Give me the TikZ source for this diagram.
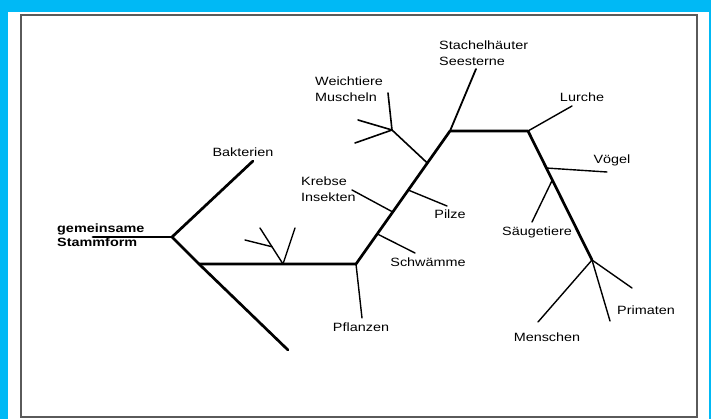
\documentclass[tikz,border=0pt]{standalone}
\usepackage{fontspec}
\setmainfont[FakeStretch=1.2]{Liberation Sans}
\usetikzlibrary{calc}
\definecolor{skyframe}{RGB}{0,185,245}
\definecolor{boxgray}{RGB}{90,90,90}
\begin{document}
\begin{tikzpicture}[x=1pt,y=-1pt,
  trunk/.style={line width=2.7pt,line cap=round,line join=round},
  twig/.style={line width=1.4pt,line cap=round},
  lbl/.style={font=\fontsize{12}{16}\selectfont,inner sep=0pt},
  mlbl/.style={lbl,align=left,anchor=west},
  bold lbl/.style={font=\bfseries\fontsize{12}{13.5}\selectfont,inner sep=0pt,align=left,anchor=west}]
% background and frame
\fill[skyframe] (0,0) rectangle (711,419);
\fill[white] (8,12) rectangle (709,419);
\draw[boxgray,line width=1.8pt] (21,15) rectangle (697,417);
\useasboundingbox (0,0) rectangle (711,419);
% coordinates
\coordinate (stub) at (93,237);
\coordinate (J0) at (172,237);
\coordinate (bak) at (253,161);
\coordinate (J1) at (199,264);
\coordinate (lowend) at (288,350);
\coordinate (F1) at (283,264);
\coordinate (f1a) at (295,228);
\coordinate (f1b) at (260,228);
\coordinate (f1c) at ($(F1)!0.48!(f1b)$);
\coordinate (f1d) at (245,240);
\coordinate (J2) at (356,264);
\coordinate (pfl) at (362,318);
\coordinate (J3) at (450,131);
\coordinate (bS) at ($(J2)!0.226!(J3)$);
\coordinate (bK) at ($(J2)!0.391!(J3)$);
\coordinate (bP) at ($(J2)!0.556!(J3)$);
\coordinate (bW) at ($(J2)!0.759!(J3)$);
\coordinate (eS) at (415,253);
\coordinate (eK) at (352,190);
\coordinate (eP) at (447,206);
\coordinate (W) at (392,130);
\coordinate (w1) at (388,93);
\coordinate (w2) at (358,120);
\coordinate (w3) at (355,143);
\coordinate (eSt) at (476,69);
\coordinate (J4) at (528,131);
\coordinate (eL) at (572,106);
\coordinate (J5) at (592,260);
\coordinate (bV) at ($(J4)!0.287!(J5)$);
\coordinate (bSa) at ($(J4)!0.38!(J5)$);
\coordinate (eV) at (607,172);
\coordinate (eSa) at (532,222);
\coordinate (eM) at (538,322);
\coordinate (ePr) at (610,321);
\coordinate (ePr2) at (632,288);
% labels
\node[bold lbl] (stamm) at (57,235) {gemeinsame\\Stammform};
\node[lbl] (lbak) at (243,152) {Bakterien};
\node[mlbl] (lkreb) at (301,189) {Krebse\\Insekten};
\node[mlbl] (lweich) at (315,89) {Weichtiere\\Muscheln};
\node[mlbl] (lstach) at (439,53) {Stachelhäuter\\Seesterne};
\node[lbl] (lpilz) at (450,214) {Pilze};
\node[lbl] (lschw) at (428,262) {Schwämme};
\node[lbl] (lpfl) at (361,327) {Pflanzen};
\node[lbl] (llur) at (582,97) {Lurche};
\node[lbl] (lvog) at (612,160) {Vögel};
\node[lbl] (lsaeu) at (537,232) {Säugetiere};
\node[lbl] (lprim) at (646,310) {Primaten};
\node[lbl] (lmen) at (547,337) {Menschen};
% trunk lines
\draw[trunk] (stub) -- (J0);
\draw[trunk] (J0) -- (bak);
\draw[trunk] (J0) -- (J1) -- (lowend);
\draw[trunk] (J1) -- (J2) -- (J3) -- (J4) -- (J5);
% twigs
\draw[twig] (F1) -- (f1a);
\draw[twig] (F1) -- (f1b);
\draw[twig] (f1c) -- (f1d);
\draw[twig] (J2) -- (pfl);
\draw[twig] (bS) -- (eS);
\draw[twig] (bK) -- (eK);
\draw[twig] (bP) -- (eP);
\draw[twig,line width=1.6pt] (bW) -- (W);
\draw[twig,line width=1.6pt] (W) -- (w1);
\draw[twig,line width=1.6pt] (W) -- (w2);
\draw[twig,line width=1.6pt] (W) -- (w3);
\draw[twig,line width=1.8pt] (J3) -- (eSt);
\draw[twig] (J4) -- (eL);
\draw[twig] (bV) -- (eV);
\draw[twig] (bSa) -- (eSa);
\draw[twig] (J5) -- (eM);
\draw[twig] (J5) -- (ePr);
\draw[twig] (J5) -- (ePr2);
\end{tikzpicture}
\end{document}
